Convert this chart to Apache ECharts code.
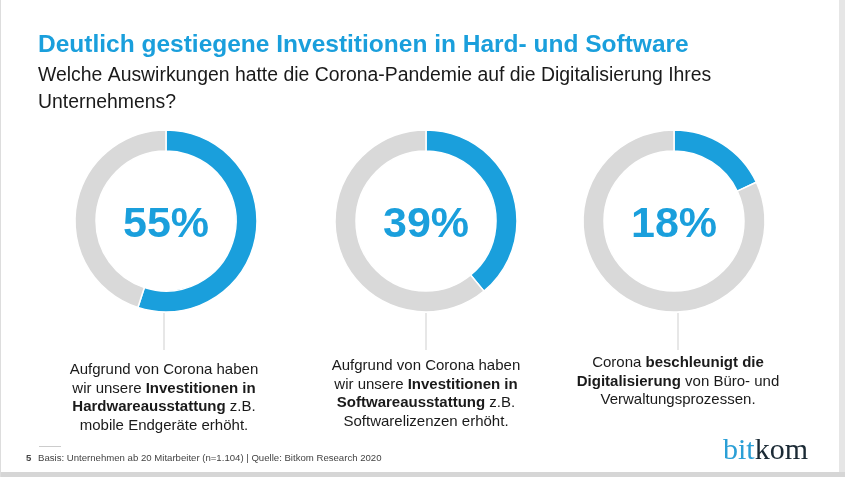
<!DOCTYPE html>
<html><head><meta charset="utf-8">
<script src="https://cdn.jsdelivr.net/npm/echarts@6/dist/echarts.min.js"></script>
<style>html,body{margin:0;padding:0;background:#fff}#c{width:845px;height:477px}</style>
</head><body><div id="c"></div>
<script>
const titleText = 'Deutlich gestiegene Investitionen in Hard- und Software';
const subtitleText = 'Welche Auswirkungen hatte die Corona-Pandemie auf die Digitalisierung Ihres\nUnternehmens?';
const categories = ['Hardware', 'Software', 'Digitalisierung'];
const shares = [55, 39, 18];
const captions = [
  'Aufgrund von Corona haben\nwir unsere {b|Investitionen in}\n{b|Hardwareausstattung} z.B.\nmobile Endgeräte erhöht.',
  'Aufgrund von Corona haben\nwir unsere {b|Investitionen in}\n{b|Softwareausstattung} z.B.\nSoftwarelizenzen erhöht.',
  'Corona {b|beschleunigt die}\n{b|Digitalisierung} von Büro- und\nVerwaltungsprozessen.'
];
const footnote = 'Basis: Unternehmen ab 20 Mitarbeiter (n=1.104) | Quelle: Bitkom Research 2020';
const pageNo = '5';

const BLUE = '#1a9fdc', GRAY = '#d9d9d9';
const FONT = '"Liberation Sans", Arial, sans-serif';
const centersX = [166, 426, 674];
const centerY = 221;
const captionX = [164, 426, 678];
const captionY = [361, 357, 354];

const chart = echarts.init(document.getElementById('c'), null, {renderer: 'canvas'});

const series = shares.map((v, i) => ({
  type: 'pie',
  name: categories[i],
  center: [centersX[i], centerY],
  radius: [70, 91],
  startAngle: 90,
  clockwise: true,
  silent: true,
  avoidLabelOverlap: false,
  labelLine: {show: false},
  itemStyle: {borderColor: '#fff', borderWidth: 1.5},
  data: [
    {value: v, itemStyle: {color: BLUE},
     label: {show: true, position: 'center', formatter: '{p|{c}%}',
             rich: {p: {color: BLUE, fontFamily: FONT, fontWeight: 'bold', fontSize: 43, padding: [8, 0, 0, 0]}}}},
    {value: 100 - v, itemStyle: {color: GRAY}, label: {show: false}}
  ]
}));

const titles = [
  {text: titleText, left: 38, top: 33, padding: 0,
   textStyle: {color: BLUE, fontFamily: FONT, fontWeight: 'bold', fontSize: 24.5}},
  {text: subtitleText, left: 38, top: 61.5, padding: 0,
   textStyle: {color: '#1a1a1a', fontFamily: FONT, fontWeight: 'normal', fontSize: 19.4, lineHeight: 27.5}},
  {text: footnote, left: 38, top: 453, padding: 0,
   textStyle: {color: '#444', fontFamily: FONT, fontWeight: 'normal', fontSize: 9.6}},
  {text: pageNo, left: 26, top: 453, padding: 0,
   textStyle: {color: '#444', fontFamily: FONT, fontWeight: 'bold', fontSize: 9.6}},
  {text: '{a|bit}{k|kom}', left: 723, top: 436, padding: 0,
   textStyle: {fontWeight: 'normal', rich: {
     a: {color: '#2a9fd6', fontFamily: '"Liberation Serif", serif', fontWeight: 'normal', fontSize: 30},
     k: {color: '#1b2a35', fontFamily: '"Liberation Serif", serif', fontWeight: 'normal', fontSize: 30}}}}
].concat(captions.map((t, i) => ({
  text: t, left: captionX[i], top: captionY[i], textAlign: 'center', padding: 0,
  textStyle: {color: '#1a1a1a', fontFamily: FONT, fontWeight: 'normal', fontSize: 15, lineHeight: 18.5,
    rich: {b: {fontWeight: 'bold', fontFamily: FONT, fontSize: 15, lineHeight: 18.5, color: '#1a1a1a'}}}
})));

const lines = captionX.map(x => ({
  type: 'line', shape: {x1: x, y1: 313, x2: x, y2: 350},
  style: {stroke: '#cfcfcf', lineWidth: 1}, silent: true
}));

chart.setOption({
  backgroundColor: '#fff',
  animation: false,
  title: titles,
  series: series,
  graphic: lines.concat([
    {type: 'line', shape: {x1: 39, y1: 446.5, x2: 61, y2: 446.5}, style: {stroke: '#cccccc', lineWidth: 1}},
    {type: 'rect', shape: {x: 839, y: 0, width: 6, height: 477}, style: {fill: '#e6e6e6'}},
    {type: 'rect', shape: {x: 0, y: 472, width: 845, height: 5}, style: {fill: '#d6d6d6'}},
    {type: 'rect', shape: {x: 0, y: 0, width: 1, height: 477}, style: {fill: '#dddddd'}}
  ])
});
</script></body></html>
